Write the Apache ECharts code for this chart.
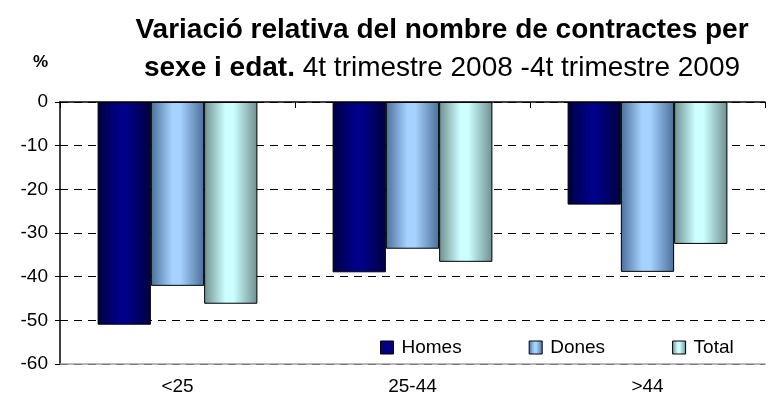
<!DOCTYPE html>
<html style="height: 100%">
<head>
    <meta charset="utf-8">
</head>
<body style="height: 100%; margin: 0; background: #fff">
<div id="container" style="width: 768px; height: 403px"></div>
<script type="text/javascript" src="https://cdn.jsdelivr.net/npm/echarts@6/dist/echarts.min.js"></script>
<script type="text/javascript">
    var categories = ['<25', '25-44', '>44'];
    var homes = [-51, -39, -23.5];
    var dones = [-42.1, -33.6, -38.9];
    var total = [-46.2, -36.6, -32.5];
    var yTicks = [0, -10, -20, -30, -40, -50, -60];

    var dom = document.getElementById("container");
    var myChart = echarts.init(dom);

    // cylinder-like horizontal shading: dark edges, light middle
    function shade(edge, mid) {
        return new echarts.graphic.LinearGradient(0, 0, 1, 0, [
            {offset: 0, color: edge},
            {offset: 0.4, color: mid},
            {offset: 0.55, color: mid},
            {offset: 1, color: edge}
        ]);
    }

    var font = 'Liberation Sans, Arial, sans-serif';

    function barSeries(name, data, fill) {
        return {
            name: name,
            type: 'bar',
            data: data,
            barGap: '0%',
            barCategoryGap: '32%',
            itemStyle: {color: fill, borderColor: '#000', borderWidth: 1},
            emphasis: {disabled: true}
        };
    }

    var option = {
        animation: false,
        textStyle: {fontFamily: font},
        title: [{
            text: 'Variació relativa del nombre de contractes per\n{b|sexe i edat.} {n|4t trimestre 2008 -4t trimestre 2009}',
            left: 437,
            top: 6,
            textAlign: 'center',
            textStyle: {
                fontFamily: font, fontSize: 28, fontWeight: 'bold', color: '#000', lineHeight: 38,
                rich: {
                    b: {fontFamily: font, fontSize: 28, fontWeight: 'bold', color: '#000', lineHeight: 38},
                    n: {fontFamily: font, fontSize: 28, fontWeight: 'normal', color: '#000', lineHeight: 38}
                }
            }
        }, {
            text: '%',
            left: 28,
            top: 49,
            textStyle: {fontFamily: font, fontSize: 17, fontWeight: 'bold', color: '#000'}
        }],
        legend: {
            data: [
                {name: 'Homes', itemStyle: {color: '#000080', borderColor: '#000', borderWidth: 1}},
                {name: 'Dones', itemStyle: {color: shade('#4a6f99', '#a6d2ff'), borderColor: '#000', borderWidth: 1}},
                {name: 'Total', itemStyle: {color: shade('#6f8f8f', '#ccffff'), borderColor: '#000', borderWidth: 1}}
            ],
            left: 375,
            top: 333,
            itemWidth: 13,
            itemHeight: 13,
            itemGap: 67,
            icon: 'rect',
            textStyle: {fontFamily: font, fontSize: 19, color: '#000', padding: [0, 0, 0, 3]}
        },
        grid: {left: 60, right: 3, top: 102, bottom: 39, containLabel: false},
        xAxis: [{
            type: 'category',
            data: categories,
            position: 'bottom',
            axisLine: {onZero: false, lineStyle: {color: '#a0a0a0', width: 1.5}},
            axisTick: {show: false},
            axisLabel: {fontFamily: font, fontSize: 19, color: '#000', margin: 13}
        }, {
            type: 'category',
            data: categories,
            position: 'top',
            axisLine: {onZero: false, lineStyle: {color: '#000', width: 1.5}},
            axisTick: {show: true, inside: true, length: 6, lineStyle: {color: '#000'}},
            axisLabel: {show: false}
        }],
        yAxis: {
            type: 'value',
            min: -60,
            max: 0,
            interval: 10,
            axisLine: {show: true, lineStyle: {color: '#000', width: 1.5}},
            axisTick: {show: true, length: 5, lineStyle: {color: '#000'}},
            axisLabel: {fontFamily: font, fontSize: 19, color: '#000', margin: 12,
                formatter: function (v) { return yTicks.indexOf(v) >= 0 ? String(v) : ''; }},
            splitLine: {show: true, lineStyle: {color: '#000', type: [8, 6], width: 1}}
        },
        series: [
            barSeries('Homes', homes, shade('#000040', '#000088')),
            barSeries('Dones', dones, shade('#4a6f99', '#a6d2ff')),
            barSeries('Total', total, shade('#6f8f8f', '#ccffff'))
        ]
    };
    myChart.setOption(option, true);
</script>
</body>
</html>
